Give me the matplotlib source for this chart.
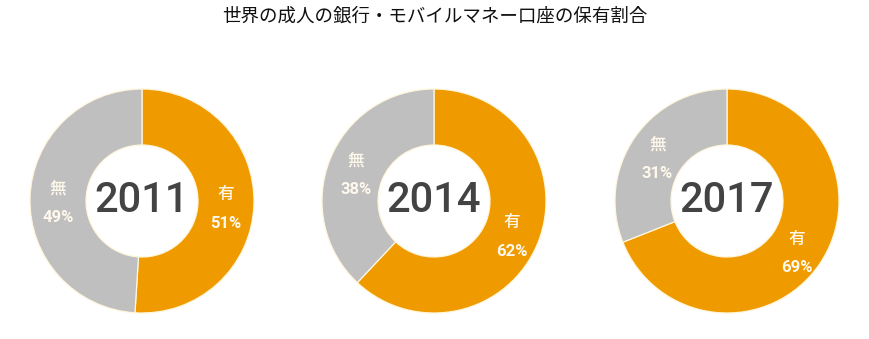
import numpy as np
import matplotlib.pyplot as plt

plt.rcParams['font.family'] = ['Noto Sans CJK JP', 'DejaVu Sans']

# データ
title = '世界の成人の銀行・モバイルマネー口座の保有割合'
years = ['2011', '2014', '2017']
have = [51, 62, 69]          # 有
have_not = [49, 38, 31]      # 無
labels = ['有', '無']

orange = '#EF9B00'
gray = '#BFBFBF'
centers_x = [142, 434, 727]  # 中心の位置 (px)
center_y = 201
r_px = 112

W, H = 870, 339
fig = plt.figure(figsize=(W / 100, H / 100), dpi=100)
fig.text(0.5, 1 - 17 / H, title, ha='center', va='center', fontsize=13.3, color='#111111')

for i, yr in enumerate(years):
    cx = centers_x[i]
    ax = fig.add_axes([(cx - r_px) / W, (H - center_y - r_px) / H, 2 * r_px / W, 2 * r_px / H])
    vals = [have[i], have_not[i]]
    ax.pie(vals, colors=[orange, gray], startangle=90, counterclock=False,
           radius=1.0, wedgeprops=dict(width=0.5, edgecolor='#FFF6DC', linewidth=0.9))
    ax.set_xlim(-1, 1)
    ax.set_ylim(-1, 1)
    ax.axis('off')

    # 中央の年
    ax.text(0, 0, yr, ha='center', va='center', fontsize=30, color='#434343',
            family=['Roboto', 'DejaVu Sans'], fontweight='medium')

    # 各区分のラベル
    start = 90
    for lab, v in zip(labels, vals):
        mid = start - v * 3.6 / 2
        start -= v * 3.6
        x = 0.75 * np.cos(np.radians(mid))
        y = 0.75 * np.sin(np.radians(mid))
        ax.text(x, y + 0.085, lab, ha='center', va='center', fontsize=12, color='#FFF8EC',
                fontweight='medium')
        ax.text(x, y - 0.175, f'{v}%', ha='center', va='center', fontsize=12, color='#FFF8EC',
                family=['Roboto', 'DejaVu Sans'], fontweight='bold')

fig.savefig('out.png', dpi=100, facecolor='white')
